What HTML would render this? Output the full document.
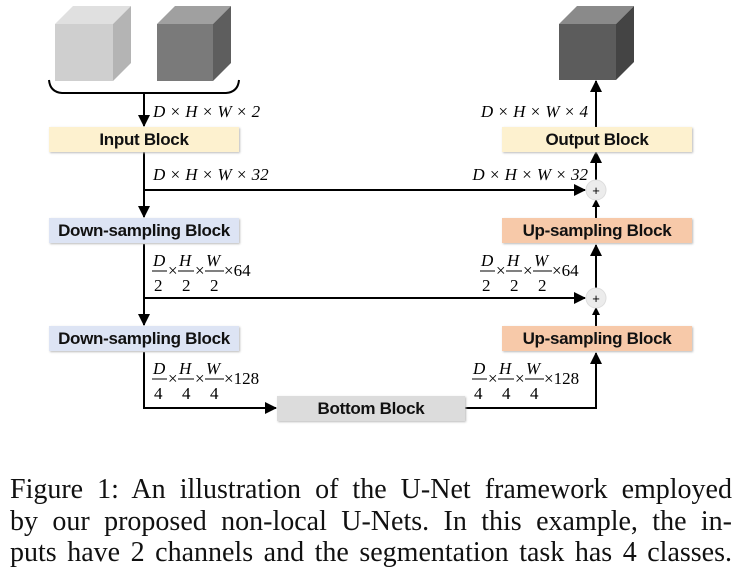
<!DOCTYPE html>
<html><head><style>
body{margin:0;background:#fff;width:740px;height:573px;overflow:hidden;position:relative;font-family:"Liberation Sans",sans-serif}
.b{position:absolute;height:25px;line-height:25px;text-align:center;font-weight:bold;font-size:17px;letter-spacing:-0.3px;color:#111;box-shadow:1px 1px 2px #bbb}
.cap{position:absolute;left:10px;width:722px;font-family:"Liberation Serif",serif;font-size:28px;color:#111;line-height:31px;text-align:justify;text-align-last:justify;white-space:nowrap}
</style></head><body>
<svg width="740" height="460" style="position:absolute;left:0;top:0" font-family="Liberation Serif" font-style="italic" font-size="17">
<defs><marker id="a" markerWidth="8" markerHeight="8" refX="7" refY="4" orient="auto" markerUnits="userSpaceOnUse"><path d="M0,0 L8,4 L0,8z" fill="#000"/></marker>
<marker id="m" markerWidth="12" markerHeight="12" refX="11" refY="6" orient="auto" markerUnits="userSpaceOnUse"><path d="M0,0 L12,6 L0,12z" fill="#000"/></marker></defs>
<polygon points="55,24 73,6 131,6 113,24" fill="#e0e0e0"/><polygon points="113,24 131,6 131,63 113,81" fill="#b4b4b4"/><rect x="55" y="24" width="58" height="57" fill="#cfcfcf"/>
<polygon points="157,24 175,6 231,6 213,24" fill="#a0a0a0"/><polygon points="213,24 231,6 231,63 213,81" fill="#5e5e5e"/><rect x="157" y="24" width="56" height="57" fill="#7a7a7a"/>
<polygon points="559,24 577,6 634,6 616,24" fill="#8a8a8a"/><polygon points="616,24 634,6 634,62 616,80" fill="#444"/><rect x="559" y="24" width="57" height="56" fill="#5c5c5c"/>
<path d="M49,80 Q50,92 62,93 L226,93 Q238,92 239,80" fill="none" stroke="#000" stroke-width="2"/>
<g stroke="#000" stroke-width="2" fill="none">
<line x1="144" y1="93" x2="144" y2="126" marker-end="url(#m)"/>
<line x1="144" y1="151" x2="144" y2="217" marker-end="url(#m)"/>
<line x1="144" y1="244" x2="144" y2="325" marker-end="url(#m)"/>
<polyline points="144,352 144,408 276,408" marker-end="url(#m)"/>
<line x1="144" y1="190" x2="585" y2="190" marker-end="url(#m)"/>
<line x1="144" y1="298" x2="585" y2="298" marker-end="url(#m)"/>
<polyline points="465,408 596,408 596,353" marker-end="url(#m)"/>
<line x1="596" y1="326" x2="596" y2="308" marker-end="url(#a)"/>
<line x1="596" y1="288" x2="596" y2="245" marker-end="url(#m)"/>
<line x1="596" y1="218" x2="596" y2="200" marker-end="url(#a)"/>
<line x1="596" y1="180" x2="596" y2="152" marker-end="url(#m)"/>
<line x1="596" y1="127" x2="596" y2="81" marker-end="url(#m)"/>
</g>
<circle cx="596" cy="190" r="10" fill="#ececec" stroke="#ddd"/><text x="596" y="195" font-style="normal" font-family="Liberation Sans" font-size="13" text-anchor="middle">+</text>
<circle cx="596" cy="298" r="10" fill="#ececec" stroke="#ddd"/><text x="596" y="303" font-style="normal" font-family="Liberation Sans" font-size="13" text-anchor="middle">+</text>
<text x="153" y="117" xml:space="preserve">D × H × W × 2</text>
<text x="153" y="180" xml:space="preserve">D × H × W × 32</text>
<text x="588" y="117" text-anchor="end" xml:space="preserve">D × H × W × 4</text>
<text x="588" y="180" text-anchor="end" xml:space="preserve">D × H × W × 32</text>
<g id="f1">
<text x="153" y="266">D</text><text x="154" y="291" font-style="normal">2</text><line x1="152" y1="271" x2="167" y2="271" stroke="#000"/>
<text x="168" y="276" font-style="normal">×</text>
<text x="179" y="266">H</text><text x="182" y="291" font-style="normal">2</text><line x1="178" y1="271" x2="194" y2="271" stroke="#000"/>
<text x="195" y="276" font-style="normal">×</text>
<text x="206" y="266">W</text><text x="210" y="291" font-style="normal">2</text><line x1="205" y1="271" x2="224" y2="271" stroke="#000"/>
<text x="224" y="276" font-style="normal">×64</text>
</g>
<use href="#f1" x="328"/>
<g id="f2">
<text x="153" y="374">D</text><text x="154" y="399" font-style="normal">4</text><line x1="152" y1="379" x2="167" y2="379" stroke="#000"/>
<text x="168" y="384" font-style="normal">×</text>
<text x="179" y="374">H</text><text x="182" y="399" font-style="normal">4</text><line x1="178" y1="379" x2="194" y2="379" stroke="#000"/>
<text x="195" y="384" font-style="normal">×</text>
<text x="206" y="374">W</text><text x="210" y="399" font-style="normal">4</text><line x1="205" y1="379" x2="224" y2="379" stroke="#000"/>
<text x="224" y="384" font-style="normal">×128</text>
</g>
<use href="#f2" x="320"/>
</svg>
<div class="b" style="left:49px;top:127px;width:190px;background:#fdf1cf">Input Block</div>
<div class="b" style="left:49px;top:218px;width:190px;background:#dde4f4">Down-sampling Block</div>
<div class="b" style="left:49px;top:326px;width:190px;background:#dde4f4">Down-sampling Block</div>
<div class="b" style="left:502px;top:127px;width:190px;background:#fdf1cf">Output Block</div>
<div class="b" style="left:502px;top:218px;width:190px;background:#f7c9a9">Up-sampling Block</div>
<div class="b" style="left:502px;top:326px;width:190px;background:#f7c9a9">Up-sampling Block</div>
<div class="b" style="left:277px;top:396px;width:188px;background:#dcdcdc">Bottom Block</div>
<div class="cap" style="top:474px">Figure 1: An illustration of the U-Net framework employed</div>
<div class="cap" style="top:506px">by our proposed non-local U-Nets. In this example, the in-</div>
<div class="cap" style="top:537px">puts have 2 channels and the segmentation task has 4 classes.</div>
</body></html>
